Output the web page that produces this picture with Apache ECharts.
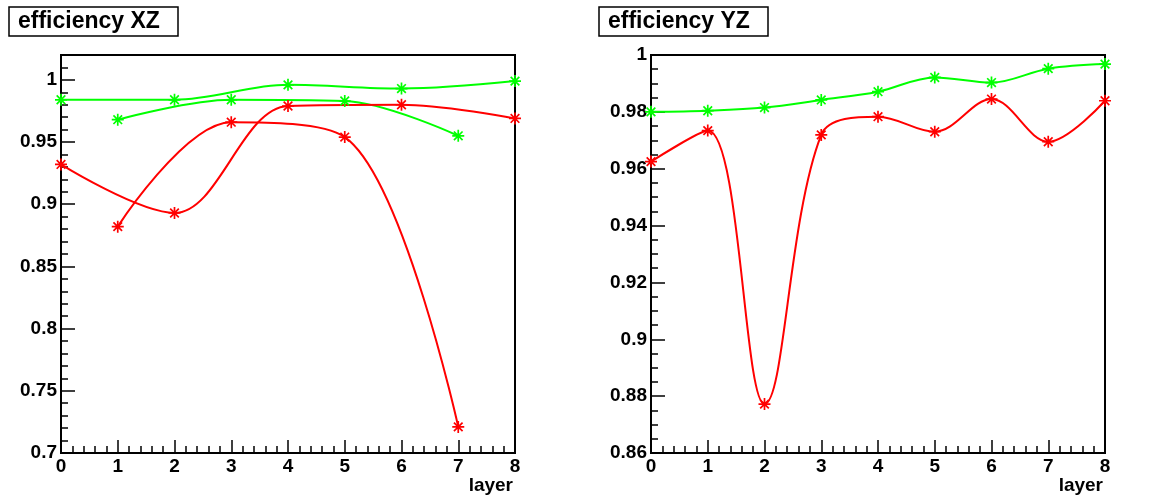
<!DOCTYPE html>
<html>
<head>
<meta charset="utf-8">
<script src="https://cdn.jsdelivr.net/npm/echarts@6/dist/echarts.min.js"></script>
<style>
html,body{margin:0;padding:0;background:#fff;}
#c{width:1160px;height:504px;}
</style>
</head>
<body>
<div id="c"></div>
<script>
// ---- data ----
const evenLayers = [0, 2, 4, 6, 8];
const oddLayers = [1, 3, 5, 7];
const allLayers = [0, 1, 2, 3, 4, 5, 6, 7, 8];

const xzGreenEven = [0.984, 0.984, 0.996, 0.993, 0.999];
const xzGreenOdd = [0.968, 0.984, 0.983, 0.955];
const xzRedEven = [0.932, 0.893, 0.979, 0.980, 0.969];
const xzRedOdd = [0.882, 0.966, 0.954, 0.721];

const yzGreen = [0.9800, 0.9804, 0.9815, 0.9842, 0.9871, 0.9921, 0.9903, 0.9952, 0.9968];
const yzRed = [0.9625, 0.9734, 0.8772, 0.9719, 0.9783, 0.9730, 0.9845, 0.9695, 0.9839];

const titles = ['efficiency XZ', 'efficiency YZ'];
const xAxisName = 'layer';

// ---- helpers ----
const pair = (xs, ys) => xs.map((x, i) => [x, ys[i]]);
const FONT = 'Liberation Sans, Arial, Helvetica, sans-serif';
const GREEN = '#00ff00';
const RED = '#ff0000';
const STAR = 'path://M0 -1 L0 1 M-1 0 L1 0 M-0.72 -0.72 L0.72 0.72 M-0.72 0.72 L0.72 -0.72';

function lineSeries(data, color, xi, yi) {
  return {
    type: 'line',
    xAxisIndex: xi,
    yAxisIndex: yi,
    data: data,
    smooth: 0.35,
    clip: false,
    symbol: STAR,
    symbolSize: 12,
    showSymbol: true,
    showAllSymbol: true,
    lineStyle: { color: color, width: 2 },
    itemStyle: { color: color, borderColor: color, borderWidth: 1.7 },
    emphasis: { disabled: true },
    z: 3
  };
}

const axisLabelStyle = { color: '#000', fontFamily: FONT, fontWeight: 'bold', fontSize: 19 };

function xAxis(gi) {
  return {
    type: 'value', gridIndex: gi, min: 0, max: 8, interval: 1,
    axisLine: { show: true, lineStyle: { color: '#000', width: 2 } },
    axisTick: { show: true, inside: true, length: 13, lineStyle: { color: '#000', width: 1.5 } },
    minorTick: { show: true, splitNumber: 5, length: 7, lineStyle: { color: '#000', width: 1.5 } },
    splitLine: { show: false },
    axisLabel: Object.assign({ margin: 4 }, axisLabelStyle)
  };
}

const titleText = { fontFamily: FONT, fontWeight: 'bold', fontSize: 23, color: '#000' };
const nameText = { fontFamily: FONT, fontWeight: 'bold', fontSize: 19, color: '#000' };

const option = {
  animation: false,
  backgroundColor: '#fff',
  title: [
    { text: titles[0], left: 9, top: 7, borderColor: '#000', borderWidth: 1.5,
      padding: [3, 18, 3, 9], textStyle: titleText },
    { text: titles[1], left: 599, top: 7, borderColor: '#000', borderWidth: 1.5,
      padding: [3, 18, 3, 9], textStyle: titleText },
    { text: xAxisName, right: 647, top: 476, padding: 0, textStyle: nameText },
    { text: xAxisName, right: 57, top: 476, padding: 0, textStyle: nameText }
  ],
  grid: [
    { left: 61, right: 645, top: 55, bottom: 51, show: true, borderColor: '#000', borderWidth: 2, backgroundColor: 'transparent' },
    { left: 651, right: 55, top: 55, bottom: 51, show: true, borderColor: '#000', borderWidth: 2, backgroundColor: 'transparent' }
  ],
  xAxis: [xAxis(0), xAxis(1)],
  yAxis: [
    { type: 'value', gridIndex: 0, min: 0.7, max: 1.02, interval: 0.05,
      axisLine: { show: true, lineStyle: { color: '#000', width: 2 } },
      axisTick: { show: true, inside: true, length: 14, lineStyle: { color: '#000', width: 1.5 } },
      minorTick: { show: false },
      splitLine: { show: false },
      axisLabel: Object.assign({ margin: 4, showMaxLabel: false }, axisLabelStyle) },
    { type: 'value', gridIndex: 0, position: 'left', offset: 0, min: 0.7, max: 1.02, interval: 0.01,
      axisLine: { show: false },
      axisTick: { show: true, inside: true, length: 7, lineStyle: { color: '#000', width: 1.5 } },
      splitLine: { show: false },
      axisLabel: { show: false } },
    { type: 'value', gridIndex: 1, min: 0.86, max: 1.0, interval: 0.02,
      axisLine: { show: true, lineStyle: { color: '#000', width: 2 } },
      axisTick: { show: true, inside: true, length: 14, lineStyle: { color: '#000', width: 1.5 } },
      minorTick: { show: true, splitNumber: 4, length: 7, lineStyle: { color: '#000', width: 1.5 } },
      splitLine: { show: false },
      axisLabel: Object.assign({ margin: 4 }, axisLabelStyle) }
  ],
  series: [
    lineSeries(pair(evenLayers, xzGreenEven), GREEN, 0, 0),
    lineSeries(pair(oddLayers, xzGreenOdd), GREEN, 0, 0),
    lineSeries(pair(evenLayers, xzRedEven), RED, 0, 0),
    lineSeries(pair(oddLayers, xzRedOdd), RED, 0, 0),
    lineSeries(pair(allLayers, yzGreen), GREEN, 1, 2),
    lineSeries(pair(allLayers, yzRed), RED, 1, 2)
  ]
};

const chart = echarts.init(document.getElementById('c'), null, { renderer: 'canvas' });
chart.setOption(option);
</script>
</body>
</html>
